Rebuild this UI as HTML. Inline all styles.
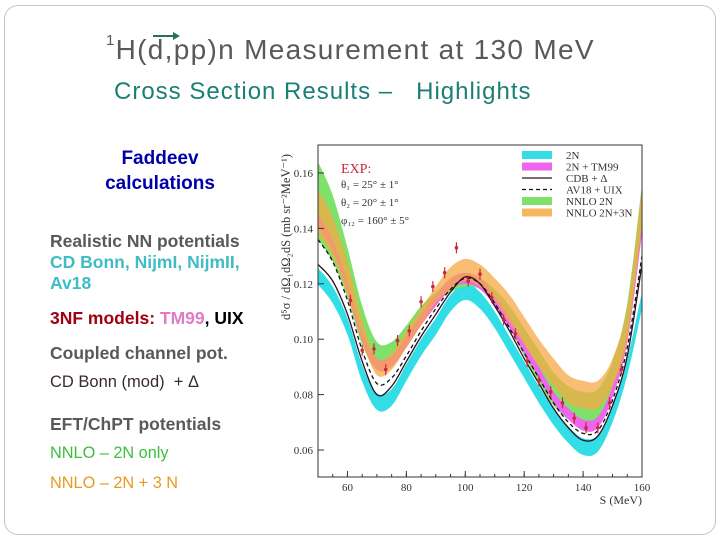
<!DOCTYPE html>
<html><head><meta charset="utf-8"><style>
body{margin:0;background:#fff;}
#slide{position:relative;width:720px;height:540px;overflow:hidden;font-family:"Liberation Sans",sans-serif;}
.frame{position:absolute;left:4px;top:5px;width:710px;height:528px;border:1px solid #c4c4c4;border-radius:14px;}
.t{position:absolute;white-space:nowrap;}
.b{font-weight:bold;}
</style></head><body>
<div id="slide">
<div class="frame"></div>
<div class="t" style="left:106px;top:34px;font-size:28px;letter-spacing:1.3px;color:#595959;"><sup style="font-size:15px;position:relative;top:-2px;vertical-align:top">1</sup>H(d,pp)n Measurement at 130 MeV</div>
<svg style="position:absolute;left:151px;top:30px" width="30" height="12"><line x1="2" y1="6" x2="22" y2="6" stroke="#2a6e5e" stroke-width="2"/><polygon points="22,2 29,6 22,10" fill="#2a6e5e"/></svg>
<div class="t" style="left:114px;top:78px;font-size:24px;letter-spacing:1px;color:#1a7f74;">Cross Section Results –&nbsp;&nbsp; Highlights</div>
<div class="t b" style="left:90px;top:146px;width:140px;text-align:center;font-size:19px;line-height:25px;color:#0000aa;">Faddeev<br>calculations</div>
<div class="t b" style="left:50px;top:231px;font-size:17.5px;line-height:21px;color:#595959;">Realistic NN potentials<br><span style="color:#40bcc4">CD Bonn, NijmI, NijmII,<br>Av18</span></div>
<div class="t b" style="left:50px;top:308px;font-size:17.5px;color:#a00010;">3NF models: <span style="color:#e07cc4">TM99</span><span style="color:#000">, UIX</span></div>
<div class="t b" style="left:50px;top:343px;font-size:17.5px;color:#595959;">Coupled channel pot.</div>
<div class="t" style="left:50px;top:373px;font-size:16.5px;color:#3a2a30;">CD Bonn (mod)&nbsp; + Δ</div>
<div class="t b" style="left:50px;top:414px;font-size:17.5px;color:#595959;">EFT/ChPT potentials</div>
<div class="t" style="left:50px;top:444px;font-size:16.3px;color:#3cbf3c;">NNLO – 2N only</div>
<div class="t" style="left:50px;top:474px;font-size:16.3px;color:#e89a20;">NNLO – 2N + 3 N</div>
<svg id="chart" style="position:absolute;left:0;top:0" width="720" height="540"></svg>
</div>
<script>
const S=[50,55,60,65,70,75,80,85,90,95,100,105,110,115,120,125,130,135,140,145,150,155,160];
const c2N=[.1227,.116,.1046,.0877,.0775,.079,.088,.097,.1046,.113,.1172,.114,.107,.098,.089,.080,.072,.0655,.0612,.0624,.073,.090,.114];
const cTM=[.143,.134,.119,.101,.091,.092,.099,.107,.114,.120,.122,.120,.114,.106,.097,.088,.079,.073,.069,.070,.081,.101,.14];
const cCDB=[.127,.121,.109,.092,.080,.083,.092,.101,.109,.117,.1225,.120,.112,.103,.093,.084,.075,.068,.0635,.065,.076,.094,.127];
const cAV=[.136,.128,.114,.096,.084,.086,.094,.103,.111,.118,.122,.120,.113,.104,.095,.086,.077,.070,.066,.067,.078,.097,.13];
const cNN=[.150,.140,.124,.105,.094,.095,.102,.109,.115,.119,.121,.120,.115,.108,.099,.090,.082,.077,.075,.076,.086,.106,.148];
const wNN=[.014,.012,.009,.007,.005,.004,.003,.003,.002,.002,.002,.002,.003,.004,.005,.006,.006,.006,.006,.006,.006,.007,.008];
const c3N=[.146,.137,.122,.103,.090,.092,.100,.108,.116,.122,.125,.123,.118,.111,.103,.095,.088,.082,.080,.080,.088,.106,.148];
const w3N=[.008,.007,.006,.004,.003,.003,.003,.003,.003,.004,.004,.004,.004,.005,.005,.005,.005,.005,.005,.005,.005,.006,.007];
const expS=[61,65,69,73,77,81,85,89,93,97,101,105,109,113,117,121,125,129,133,137,141,145,149,153];
const expY=[.114,.096,.0965,.089,.0995,.103,.1135,.119,.124,.133,.121,.1235,.115,.107,.102,.092,.085,.081,.077,.0715,.068,.068,.077,.089];
const xTicks=[60,80,100,120,140,160];
const yTicks=[0.06,0.08,0.10,0.12,0.14,0.16];
const NS="http://www.w3.org/2000/svg";
const svg=document.getElementById('chart');
const X0=318,X1=642,Y0=145,Y1=477;
const xs=v=>X0+(v-50)/110*(X1-X0);
const ys=v=>173+(0.16-v)/0.1*277;
function el(t,a,p){const e=document.createElementNS(NS,t);for(const k in a)e.setAttribute(k,a[k]);(p||svg).appendChild(e);return e;}
function smooth(pts){let d='M'+pts[0][0].toFixed(1)+','+pts[0][1].toFixed(1);
for(let i=0;i<pts.length-1;i++){const p0=pts[Math.max(0,i-1)],p1=pts[i],p2=pts[i+1],p3=pts[Math.min(pts.length-1,i+2)];
d+=' C'+(p1[0]+(p2[0]-p0[0])/6).toFixed(1)+','+(p1[1]+(p2[1]-p0[1])/6).toFixed(1)+' '+(p2[0]-(p3[0]-p1[0])/6).toFixed(1)+','+(p2[1]-(p3[1]-p1[1])/6).toFixed(1)+' '+p2[0].toFixed(1)+','+p2[1].toFixed(1);}
return d;}
const clip=el('clipPath',{id:'pc'});el('rect',{x:X0,y:Y0,width:X1-X0,height:Y1-Y0},clip);
const g=el('g',{'clip-path':'url(#pc)'});
const w2N=S.map(()=>0.003),wTM=S.map(()=>0.002);
[[c2N,w2N,'#33dde6','band-2n'],[cNN,wNN,'#7ee26a','band-nnlo-2n'],[cTM,wTM,'#ee66ee','band-2n-tm99'],[c3N,w3N,'rgba(245,170,70,0.75)','band-nnlo-2n3n']].forEach(b=>{
const up=S.map((s,i)=>[xs(s),ys(b[0][i]+b[1][i])]);const lo=S.map((s,i)=>[xs(s),ys(b[0][i]-b[1][i])]).reverse();
const p=el('path',{d:smooth(up)+' L'+smooth(lo).slice(1)+' Z',fill:b[2]},g);

});
const l1=el('path',{d:smooth(S.map((s,i)=>[xs(s),ys(cCDB[i])])),fill:'none',stroke:'#2a1020','stroke-width':1.3},g);


const l2=el('path',{d:smooth(S.map((s,i)=>[xs(s),ys(cAV[i])])),fill:'none',stroke:'#111','stroke-width':1.3,'stroke-dasharray':'4,3'},g);


expS.forEach((s,i)=>{const gg=el('g',{},g);


el('line',{x1:xs(s),x2:xs(s),y1:ys(expY[i]+0.002),y2:ys(expY[i]-0.002),stroke:'#c8283a','stroke-width':1.2},gg);
el('circle',{cx:xs(s),cy:ys(expY[i]),r:1.8,fill:'#c8283a'},gg);});
const fr=el('rect',{x:X0,y:Y0,width:X1-X0,height:Y1-Y0,fill:'none',stroke:'#333','stroke-width':1});


xTicks.forEach(t=>{el('line',{x1:xs(t),x2:xs(t),y1:Y1,y2:Y1-6,stroke:'#333'});
const tx=el('text',{x:xs(t),y:Y1+14,'text-anchor':'middle','font-size':11,fill:'#333','font-family':'Liberation Serif,serif'});tx.textContent=t;

});
for(let t=50;t<=160;t+=5)el('line',{x1:xs(t),x2:xs(t),y1:Y1,y2:Y1-3,stroke:'#333'});
yTicks.forEach(t=>{el('line',{x1:X0,x2:X0+6,y1:ys(t),y2:ys(t),stroke:'#333'});
const tx=el('text',{x:X0-5,y:ys(t)+4,'text-anchor':'end','font-size':11,fill:'#333','font-family':'Liberation Serif,serif'});tx.textContent=t.toFixed(2);

});
const xt=el('text',{x:X1,y:Y1+27,'text-anchor':'end','font-size':12,fill:'#333','font-family':'Liberation Serif,serif'});xt.textContent='S (MeV)';


const yt=el('text',{x:0,y:0,transform:'translate(290,237) rotate(-90)','text-anchor':'middle','font-size':12.5,fill:'#333','font-family':'Liberation Serif,serif'});yt.textContent='d⁵σ / dΩ₁dΩ₂dS  (mb sr⁻²MeV⁻¹)';


const ex=[['EXP:',173,'#c8283a',14],['θ₁ = 25° ± 1°',188,'#333',11],['θ₂ = 20° ± 1°',206,'#333',11],['φ₁₂ = 160° ± 5°',224,'#333',11]];
ex.forEach(e=>{const t=el('text',{x:341,y:e[1],'font-size':e[3],fill:e[2],'font-family':'Liberation Serif,serif'});t.textContent=e[0];

});
const leg=[['2N','#33dde6','band'],['2N + TM99','#ee66ee','band'],['CDB + Δ','#2a1020','solid'],['AV18 + UIX','#111','dash'],['NNLO  2N','#7ee26a','band'],['NNLO  2N+3N','#f5b860','band']];
leg.forEach((L,i)=>{const y=155+i*11.5;const gg=el('g',{});


if(L[2]=='band')el('rect',{x:522,y:y-4,width:30,height:8,fill:L[1]},gg);
else el('line',{x1:522,x2:552,y1:y,y2:y,stroke:L[1],'stroke-width':1.2,'stroke-dasharray':L[2]=='dash'?'4,3':'none'},gg);
const t=el('text',{x:566,y:y+4,'font-size':11,fill:'#333','font-family':'Liberation Serif,serif'},gg);t.textContent=L[0];});
</script>
</body></html>
